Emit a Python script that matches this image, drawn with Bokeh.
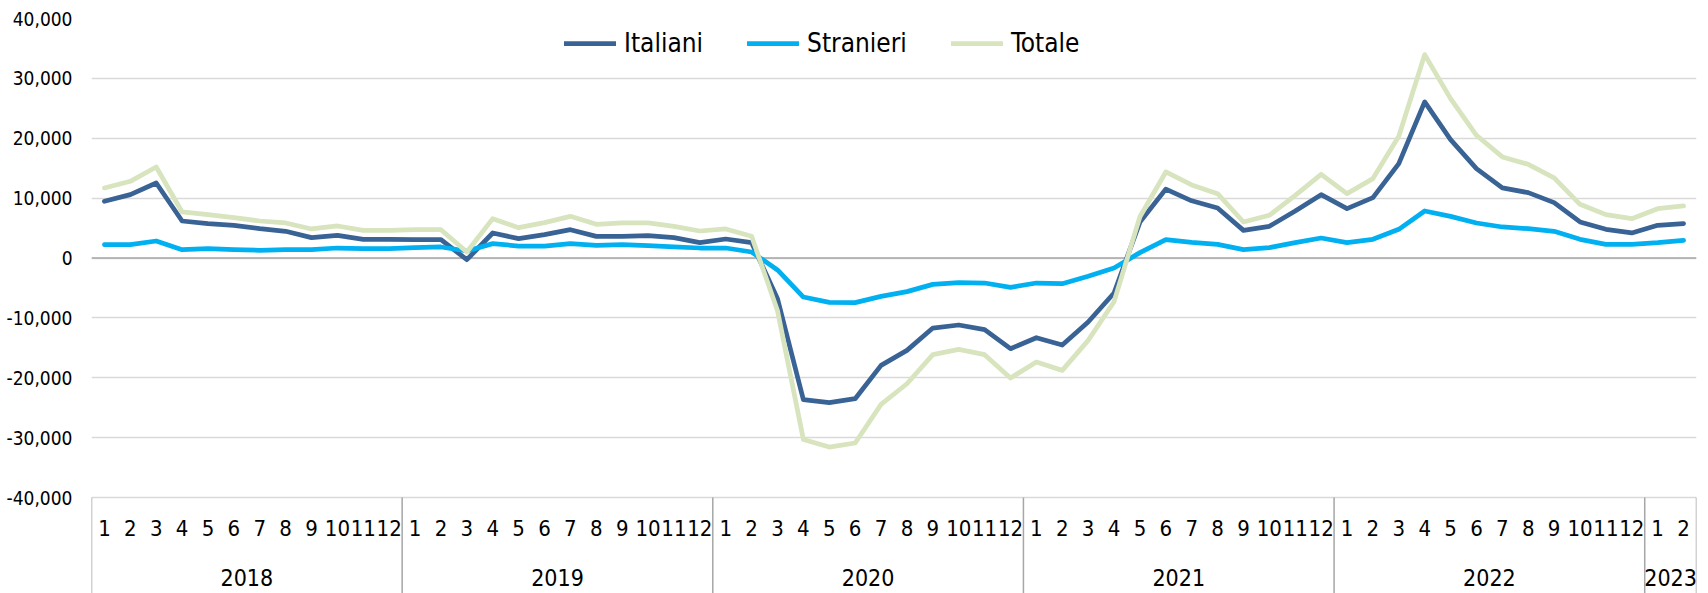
from bokeh.plotting import figure
from bokeh.models import (Range1d, FixedTicker, NumeralTickFormatter, Legend,
                          LegendItem, ColumnDataSource, Span)
from bokeh.core.properties import value
from bokeh.embed import file_html
from bokeh.resources import INLINE

# ---------------- data ----------------
year_labels = ["2018", "2019", "2020", "2021", "2022", "2023"]
months_in_year = [12, 12, 12, 12, 12, 2]

italiani = [
    9470, 10580, 12530, 6180, 5740, 5460, 4900, 4460, 3400, 3790, 3120, 3120,
    3060, 3060, -280, 4180, 3230, 3900, 4730, 3620, 3620, 3730, 3400, 2560,
    3170, 2560, -6800, -23670, -24170, -23500, -17930, -15430, -11700, -11190, -11970, -15150,
    -13310, -14540, -10690, -5850, 6000, 11500, 9550, 8350, 4620, 5290, 7850, 10580,
    8240, 10080, 15760, 26070, 19770, 14930, 11700, 10920, 9250, 6020, 4790, 4180,
    5460, 5740,
]
stranieri = [
    2230, 2230, 2840, 1390, 1560, 1390, 1280, 1390, 1390, 1670, 1560, 1560,
    1730, 1840, 1170, 2400, 2000, 2000, 2400, 2100, 2230, 2060, 1840, 1670,
    1670, 1000, -2000, -6520, -7400, -7460, -6400, -5620, -4400, -4120, -4180, -4900,
    -4180, -4290, -3060, -1670, 900, 3060, 2620, 2280, 1390, 1730, 2560, 3340,
    2560, 3120, 4790, 7850, 6960, 5850, 5180, 4900, 4460, 3120, 2280, 2280,
    2560, 2950,
]
totale = [
    11700, 12810, 15200, 7690, 7240, 6740, 6180, 5850, 4850, 5350, 4620, 4620,
    4730, 4730, 1000, 6570, 5070, 5900, 6960, 5620, 5850, 5850, 5290, 4510,
    4850, 3620, -8800, -30300, -31580, -30900, -24450, -21000, -16150, -15260, -16150, -20050,
    -17380, -18770, -13760, -7300, 6900, 14370, 12200, 10750, 6010, 7130, 10470, 13980,
    10750, 13260, 20330, 33970, 26620, 20500, 16880, 15650, 13370, 8970, 7240, 6570,
    8240, 8690,
]
y_ticks = [-40000, -30000, -20000, -10000, 0, 10000, 20000, 30000, 40000]

# ---------------- derived categories ----------------
month_labels = []
for cnt in months_in_year:
    month_labels += [str(m + 1) for m in range(cnt)]
n = len(month_labels)
idx = list(range(n))

bounds = [-0.5]
for cnt in months_in_year:
    bounds.append(bounds[-1] + cnt)
year_centers = [(bounds[i] + bounds[i + 1]) / 2 for i in range(len(year_labels))]

# ---------------- layout ----------------
FONT = "Liberation Sans Narrow, DejaVu Sans Condensed, Liberation Sans"
W, H = 1708, 593
FL, FR, FT = 91, 12, 18
frame_h = H - FT
PX = (y_ticks[-1] - y_ticks[0]) / 479.0
y_top = y_ticks[-1]
y_start = y_top - frame_h * PX
month_y = y_top - 509.5 * PX
year_y = y_top - 558.5 * PX

p = figure(width=W, height=H, output_backend="svg", toolbar_location=None,
           x_range=Range1d(-0.5, n - 0.5), y_range=Range1d(y_start, y_top),
           min_border_left=FL, min_border_right=FR, min_border_top=FT,
           min_border_bottom=0, x_axis_location=None, outline_line_color=None,
           background_fill_color="white", border_fill_color="white")

ticker = FixedTicker(ticks=y_ticks)
p.yaxis.ticker = ticker
p.yaxis.formatter = NumeralTickFormatter(format="0,0")
p.yaxis.axis_line_color = None
p.yaxis.major_tick_line_color = None
p.yaxis.minor_tick_line_color = None
p.yaxis.major_tick_out = 0
p.yaxis.major_label_standoff = 19
p.yaxis.major_label_text_font = FONT
p.yaxis.major_label_text_font_size = "19px"
p.yaxis.major_label_text_color = "#000000"

p.ygrid.ticker = ticker
p.ygrid.grid_line_color = "#d9d9d9"
p.ygrid.grid_line_width = 1.5
p.xgrid.visible = False

p.add_layout(Span(location=0, dimension="width", line_color="#a6a6a6",
                  line_width=1.5, level="underlay"))

# category axis box separators
p.segment(x0=bounds, y0=[y_ticks[0]] * len(bounds), x1=bounds,
          y1=[y_start - 5000] * len(bounds), line_color="#a6a6a6", line_width=1.5)

src = ColumnDataSource(dict(x=idx, it=italiani, st=stranieri, tot=totale))
r_it = p.line("x", "it", source=src, line_color="#3A6395", line_width=4.75,
              line_join="round", line_cap="round")
r_st = p.line("x", "st", source=src, line_color="#00B0F0", line_width=4.75,
              line_join="round", line_cap="round")
r_tot = p.line("x", "tot", source=src, line_color="#D7E4BD", line_width=4.75,
               line_join="round", line_cap="round")

# month and year labels
p.text(x=idx, y=[month_y] * n, text=month_labels, text_font=value(FONT),
       text_font_size="22px", text_align="center", text_baseline="alphabetic",
       text_color="#000000")
p.text(x=year_centers, y=[year_y] * len(year_labels), text=year_labels,
       text_font=value(FONT), text_font_size="23px", text_align="center",
       text_baseline="alphabetic", text_color="#000000")

legend = Legend(items=[LegendItem(label="Italiani", renderers=[r_it]),
                       LegendItem(label="Stranieri", renderers=[r_st]),
                       LegendItem(label="Totale", renderers=[r_tot])],
                orientation="horizontal", location=(473, 535),
                label_text_font=FONT, label_text_font_size="26px",
                label_text_color="#000000",
                glyph_width=52, glyph_height=20, label_standoff=8, spacing=44,
                padding=0, margin=0, border_line_color=None,
                background_fill_alpha=0)
p.add_layout(legend)

open("out.html", "w").write(file_html(p, INLINE))
